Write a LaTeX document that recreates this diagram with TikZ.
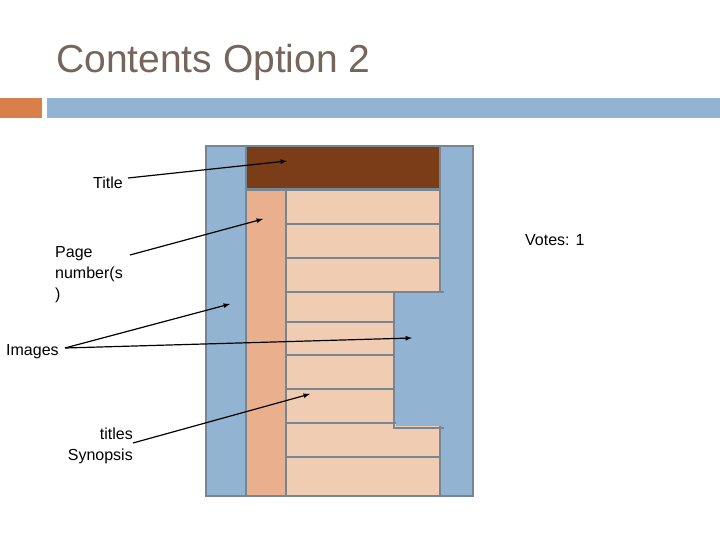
\documentclass[tikz,border=0pt]{standalone}
\usepackage{fontspec}
\setmainfont{Liberation Sans}
\begin{document}
\begin{tikzpicture}[x=1pt,y=-1pt,
  lbl/.style={font=\fontsize{16}{21}\selectfont, inner sep=0pt},
  arr/.style={-latex, line width=1.2pt}]
\definecolor{hdr}{HTML}{76655A}\definecolor{obar}{HTML}{D9804A}\definecolor{bbar}{HTML}{93B3D2}
\definecolor{edge}{HTML}{768695}\definecolor{brown}{HTML}{7A3D17}\definecolor{col}{HTML}{EAB08E}\definecolor{row}{HTML}{F0CDB2}
\useasboundingbox (0,0) rectangle (720,540);
\node[anchor=base west, text=hdr, font=\fontsize{39}{44}\selectfont, inner sep=0pt] (ttl) at (56,73) {Contents Option 2};
\fill[obar] (0,98) rectangle (42,118);
\fill[bbar] (47,98) rectangle (720,118);
\tikzset{e/.style={draw=edge, line width=2.5pt}}
\path[e, fill=bbar] (206,146) rectangle (473,496);
\path[e, fill=brown] (246,146) rectangle (440,189);
\path[e, fill=col] (246,190) rectangle (286,496);
\foreach \a/\b/\r in {190/224/440,224/258/440,258/292/440,292/322/394,322/355/394,355/389/394,389/423/394,423/457/440,457/496/440}
  \path[e, fill=row] (286,\a) rectangle (\r,\b);
\fill[bbar] (396,294) rectangle (443,426);
\draw[e] (394,292) -- (444,292) (394,292) -- (394,428) -- (444,428);
\node[lbl, anchor=east] (t) at (123,183) {Title};
\node[lbl, align=left, anchor=north west] (p) at (55,246) {Page\\number(s\\)};
\node[lbl, anchor=west] (i) at (6,352) {Images};
\node[lbl, align=right, anchor=north east] (s) at (133,428) {titles\\Synopsis};
\node[lbl, anchor=west] (v) at (525,240) {Votes: 1};
\coordinate (ta) at (287,161); \coordinate (pa) at (263,219); \coordinate (pb) at (230,304);
\coordinate (ia) at (412,338); \coordinate (sa) at (310,394);
\draw[arr] (128,178) -- (ta);
\draw[arr] (130,255) -- (pa);
\draw[arr] (65,348) -- (pb);
\draw[arr] (65,348) -- (ia);
\draw[arr] (133,443) -- (sa);
\end{tikzpicture}
\end{document}
